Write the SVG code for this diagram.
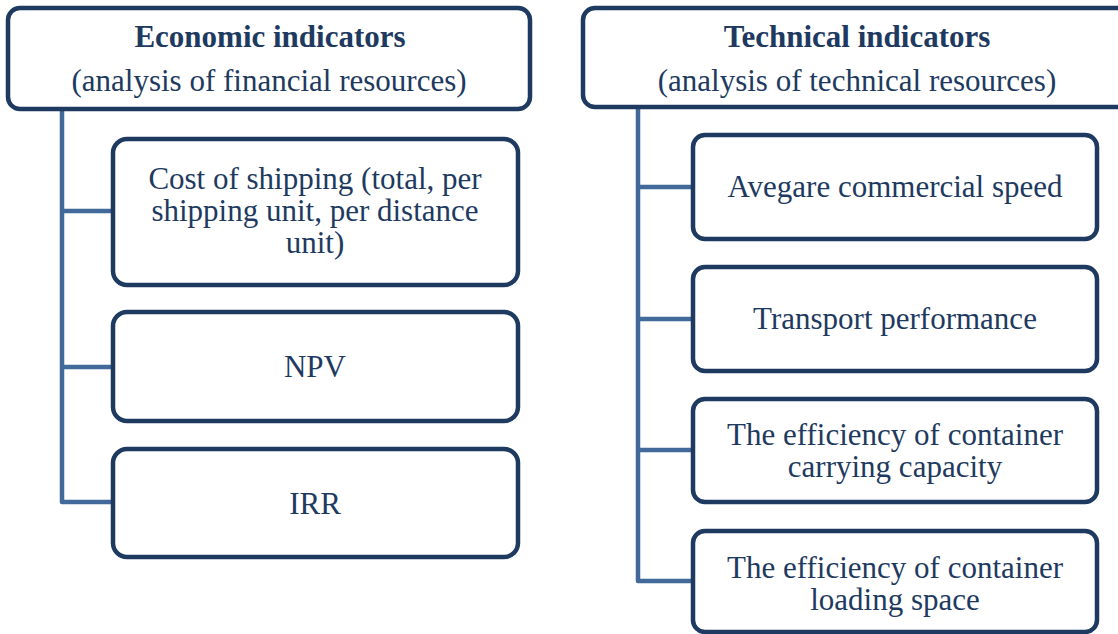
<svg xmlns="http://www.w3.org/2000/svg" width="1118" height="634" viewBox="0 0 1118 634">
<style>
.box{fill:#fff;stroke:#1E3A60;stroke-width:4.5}
.con{fill:none;stroke:#41699A;stroke-width:4.5;stroke-linejoin:round}
text{font-family:"Liberation Serif","Times New Roman",serif;font-size:31px;fill:#1E3A60;text-anchor:middle}
.b{font-weight:bold}
</style>
<rect width="1118" height="634" fill="#fff"/>
<g id="connectors">
<path class="con" d="M62,110 V502 H112 M62,211 H112 M62,367 H112"/>
<path class="con" d="M638,108 V581 H692 M638,187 H692 M638,319 H692 M638,450 H692"/>
</g>
<g id="economic">
<rect class="box" x="8" y="8" width="522" height="101" rx="12"/>
<text x="270" y="47" class="b">Economic indicators</text>
<text x="269" y="91">(analysis of financial resources)</text>
</g>
<g id="cost">
<rect class="box" x="113" y="139" width="405" height="146" rx="14"/>
<text x="315" y="189"><tspan x="315" y="189">Cost of shipping (total, per</tspan><tspan x="315" y="221">shipping unit, per distance</tspan><tspan x="315" y="253">unit)</tspan></text>
</g>
<g id="npv">
<rect class="box" x="113" y="312" width="405" height="109" rx="14"/>
<text x="315" y="377">NPV</text>
</g>
<g id="irr">
<rect class="box" x="113" y="449" width="405" height="108" rx="14"/>
<text x="315" y="514">IRR</text>
</g>
<g id="technical">
<rect class="box" x="583" y="8" width="550" height="99" rx="12"/>
<text x="857" y="47" class="b">Technical indicators</text>
<text x="857" y="91">(analysis of technical resources)</text>
</g>
<g id="speed">
<rect class="box" x="693" y="135" width="404" height="104" rx="12"/>
<text x="895" y="197">Avegare commercial speed</text>
</g>
<g id="performance">
<rect class="box" x="693" y="267" width="404" height="104" rx="12"/>
<text x="895" y="329">Transport performance</text>
</g>
<g id="capacity">
<rect class="box" x="693" y="399" width="404" height="103" rx="12"/>
<text x="895" y="445"><tspan x="895" y="445">The efficiency of container</tspan><tspan x="895" y="477">carrying capacity</tspan></text>
</g>
<g id="loading">
<rect class="box" x="693" y="531" width="404" height="101" rx="12"/>
<text x="895" y="578"><tspan x="895" y="578">The efficiency of container</tspan><tspan x="895" y="610">loading space</tspan></text>
</g>
</svg>
